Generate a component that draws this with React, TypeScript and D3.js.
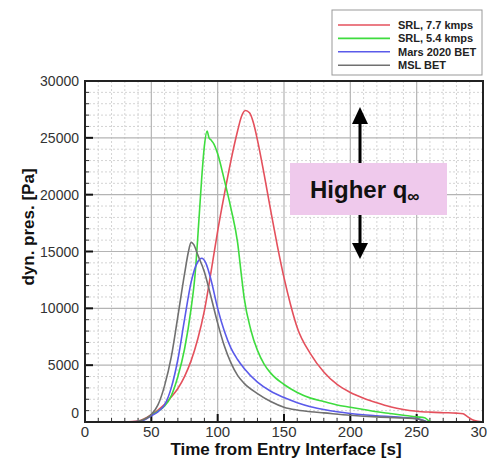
import React from "react";
import * as d3 from "d3";

const W = 487;
const H = 459;

const seriesNames = ["SRL, 7.7 kmps", "SRL, 5.4 kmps", "Mars 2020 BET", "MSL BET"];
const seriesColors = ["#e4505c", "#3edc3e", "#5a5aea", "#707070"];

const srl77T = [30, 40, 45, 50, 55, 60, 65, 70, 75, 80, 85, 90, 95, 100, 105, 110, 115, 118, 121, 124, 127, 130, 135, 140, 145, 150, 155, 160, 170, 180, 190, 200, 210, 220, 230, 240, 250, 260, 270, 280, 285, 288, 292, 296, 300];
const srl77Q = [0, 80, 300, 650, 1050, 1550, 2200, 2950, 4000, 5400, 7300, 9800, 13200, 16800, 20000, 23000, 25600, 26900, 27400, 27200, 26300, 24800, 21800, 18600, 15500, 12700, 10300, 8300, 6000, 4400, 3300, 2600, 2100, 1700, 1350, 1100, 950, 870, 820, 780, 720, 500, 200, 60, 0];

const srl54T = [30, 40, 45, 50, 55, 60, 65, 70, 75, 80, 83, 86, 88, 90, 92, 93.5, 95, 97, 100, 105, 110, 115, 118, 120, 125, 130, 135, 140, 150, 160, 170, 180, 190, 200, 210, 220, 230, 240, 250, 256, 259, 262];
const srl54Q = [0, 50, 250, 600, 950, 1400, 2300, 4000, 6400, 10000, 13000, 18000, 21500, 24300, 25600, 25000, 24800, 24500, 23600, 21300, 18800, 15800, 12800, 10900, 8100, 6300, 5100, 4300, 3300, 2600, 2100, 1800, 1500, 1300, 1100, 900, 750, 600, 450, 380, 120, 0];

const m2020T = [30, 40, 45, 50, 55, 60, 65, 70, 75, 80, 85, 88, 91, 95, 100, 105, 110, 115, 120, 130, 140, 150, 160, 170, 180, 190, 200, 220, 240, 250, 255, 258];
const m2020Q = [0, 30, 200, 550, 900, 1500, 3000, 5500, 9000, 12300, 14100, 14400, 14000, 12500, 10000, 8000, 6500, 5500, 4700, 3500, 2700, 2150, 1700, 1350, 1100, 900, 750, 550, 400, 300, 150, 0];

const mslT = [30, 40, 45, 50, 55, 60, 65, 70, 75, 78, 80, 82, 85, 90, 95, 100, 105, 110, 115, 120, 130, 140, 150, 160, 170, 180, 200, 220, 240, 250, 255, 258];
const mslQ = [0, 50, 250, 650, 1500, 3200, 5700, 9300, 13000, 15000, 15800, 15600, 14700, 13200, 11000, 8700, 6700, 5200, 4100, 3400, 2500, 1800, 1300, 1050, 900, 800, 600, 450, 350, 300, 100, 0];

const seriesT = [srl77T, srl54T, m2020T, mslT];
const seriesQ = [srl77Q, srl54Q, m2020Q, mslQ];

const xTicks = [0, 50, 100, 150, 200, 250, 300];
const yTicks = [0, 5000, 10000, 15000, 20000, 25000, 30000];

const xLabel = "Time from Entry Interface [s]";
const yLabel = "dyn. pres. [Pa]";
const annoText = "Higher q";
const annoSub = "∞";

export default function App() {
  const L = 85, R = 483, T = 81, B = 422;
  const x = d3.scaleLinear().domain([0, 300]).range([L, R]);
  const y = d3.scaleLinear().domain([0, 30000]).range([B, T]);
  const minorX = d3.range(10, 300, 10).filter((v) => v % 50 !== 0);
  const minorY = d3.range(1000, 30000, 1000).filter((v) => v % 5000 !== 0);
  const line = d3
    .line<[number, number]>()
    .x((d) => x(d[0]))
    .y((d) => y(d[1]))
    .curve(d3.curveMonotoneX);
  const font = "'Liberation Sans', Arial, Helvetica, sans-serif";

  return (
    <svg width={W} height={H} style={{ position: "absolute", left: 0, top: 0, background: "#fff" }} fontFamily={font}>
      <rect x={0} y={0} width={W} height={H} fill="#fff" />
      <defs>
        <clipPath id="plotclip">
          <rect x={L} y={T} width={R - L} height={B - T} />
        </clipPath>
      </defs>
      {/* minor grid */}
      {minorX.map((v) => (
        <line key={"mx" + v} x1={x(v)} x2={x(v)} y1={T} y2={B} stroke="#d4d4d4" strokeWidth={1} strokeDasharray="2,2" />
      ))}
      {minorY.map((v) => (
        <line key={"my" + v} x1={L} x2={R} y1={y(v)} y2={y(v)} stroke="#d4d4d4" strokeWidth={1} strokeDasharray="2,2" />
      ))}
      {/* major grid */}
      {xTicks.slice(1, -1).map((v) => (
        <line key={"gx" + v} x1={x(v)} x2={x(v)} y1={T} y2={B} stroke="#b4b4b4" strokeWidth={1.2} />
      ))}
      {yTicks.slice(1, -1).map((v) => (
        <line key={"gy" + v} x1={L} x2={R} y1={y(v)} y2={y(v)} stroke="#b4b4b4" strokeWidth={1.2} />
      ))}
      {/* ticks */}
      {minorX.map((v) => (
        <line key={"tx" + v} x1={x(v)} x2={x(v)} y1={B} y2={B - 4} stroke="#333" strokeWidth={1} />
      ))}
      {xTicks.map((v) => (
        <line key={"Tx" + v} x1={x(v)} x2={x(v)} y1={B} y2={B - 8} stroke="#111" strokeWidth={2} />
      ))}
      {minorY.map((v) => (
        <line key={"ty" + v} x1={L} x2={L + 4} y1={y(v)} y2={y(v)} stroke="#333" strokeWidth={1} />
      ))}
      {yTicks.map((v) => (
        <line key={"Ty" + v} x1={L} x2={L + 8} y1={y(v)} y2={y(v)} stroke="#111" strokeWidth={2} />
      ))}
      {/* series */}
      <g clipPath="url(#plotclip)">
        {seriesT.map((ts, i) => (
          <path
            key={"s" + i}
            d={line(ts.map((t, j) => [t, seriesQ[i][j]] as [number, number])) || ""}
            fill="none"
            stroke={seriesColors[i]}
            strokeWidth={1.6}
          />
        ))}
      </g>
      {/* frame */}
      <rect x={L} y={T} width={R - L} height={B - T} fill="none" stroke="#222" strokeWidth={2} />
      {/* tick labels */}
      {xTicks.map((v) => (
        <text key={"lx" + v} x={x(v)} y={B + 15} textAnchor="middle" fontSize={15} fill="#333">
          {v}
        </text>
      ))}
      {yTicks.map((v) => (
        <text key={"ly" + v} x={L - 6} y={y(v) + 5 - (v === 0 ? 9 : 0)} textAnchor="end" fontSize={14} fill="#333">
          {v}
        </text>
      ))}
      {/* axis labels */}
      <text x={(L + R) / 2 + 2} y={455} textAnchor="middle" fontSize={17} fontWeight="bold" fill="#111">
        {xLabel}
      </text>
      <text
        transform={`translate(34, 227) rotate(-90)`}
        textAnchor="middle"
        fontSize={17}
        fontWeight="bold"
        fill="#111"
      >
        {yLabel}
      </text>
      {/* legend */}
      <rect x={332} y={10} width={150} height={65} fill="#fff" stroke="#999" strokeWidth={1} />
      {seriesNames.map((n, i) => (
        <g key={"lg" + i}>
          <line x1={338} x2={390} y1={25 + i * 13.4} y2={25 + i * 13.4} stroke={seriesColors[i]} strokeWidth={1.6} />
          <text x={398} y={25 + i * 13.4 + 4} fontSize={11} fontWeight="bold" fill="#222">
            {n}
          </text>
        </g>
      ))}
      {/* annotation */}
      <line x1={360} x2={360} y1={120} y2={248} stroke="#000" strokeWidth={3} />
      <path d="M360,107 L352,124 L368,124 Z" fill="#000" />
      <path d="M360,259 L352,243 L368,243 Z" fill="#000" />
      <rect x={290} y={163} width={157} height={52} fill="#efc9ec" />
      <text x={310} y={198} fontSize={24} fontWeight="bold" fill="#111">
        {annoText}
        <tspan fontSize={17} dy={4}>
          {annoSub}
        </tspan>
      </text>
    </svg>
  );
}
